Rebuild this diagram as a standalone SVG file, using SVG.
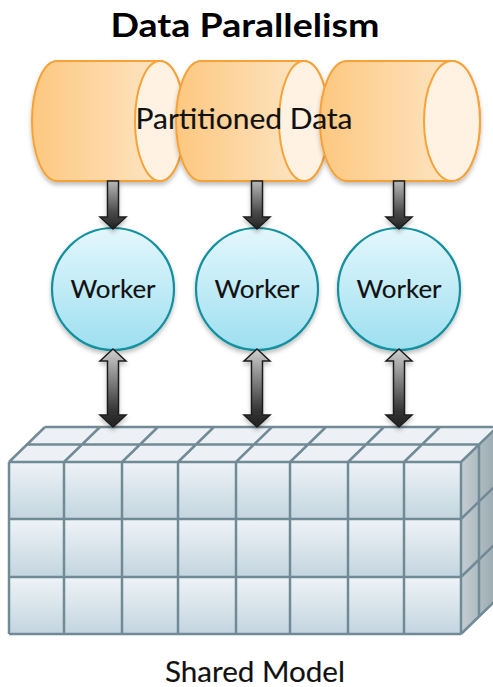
<svg xmlns="http://www.w3.org/2000/svg" width="493" height="687" viewBox="0 0 493 687">
<defs>
<linearGradient id="cylBody" x1="0" y1="0" x2="1" y2="0"><stop offset="0" stop-color="#fdc880"/><stop offset="1" stop-color="#feead0"/></linearGradient>
<linearGradient id="workerFill" x1="0" y1="0" x2="0" y2="1"><stop offset="0" stop-color="#e4f7fc"/><stop offset="1" stop-color="#9ddff0"/></linearGradient>
<linearGradient id="arrowDown" x1="0" y1="0" x2="0" y2="1"><stop offset="0" stop-color="#b8b8b8"/><stop offset="0.65" stop-color="#4a4a4a"/><stop offset="1" stop-color="#222"/></linearGradient>
<linearGradient id="arrowBoth" x1="0" y1="0" x2="0" y2="1"><stop offset="0" stop-color="#d0d0d0"/><stop offset="0.8" stop-color="#333"/><stop offset="1" stop-color="#222"/></linearGradient>
<linearGradient id="cell" x1="0" y1="0" x2="0" y2="1"><stop offset="0" stop-color="#eef3f7"/><stop offset="1" stop-color="#c3d5df"/></linearGradient>
<linearGradient id="side" x1="0" y1="0" x2="1" y2="0"><stop offset="0" stop-color="#c4cdd2"/><stop offset="1" stop-color="#9aa9b0"/></linearGradient>
<filter id="shadow" x="-20%" y="-20%" width="140%" height="150%"><feDropShadow dx="0" dy="3" stdDeviation="2" flood-color="#000" flood-opacity="0.25"/></filter>
</defs>
<style>
.title{font-family:Lato,"Open Sans","Liberation Sans",sans-serif;font-weight:bold;font-size:33px;fill:#000}
.lbl{font-family:Lato,"Open Sans","Liberation Sans",sans-serif;fill:#111;stroke:#111;stroke-width:0.15}
.cyl{fill:url(#cylBody);stroke:#f6a237;stroke-width:2}
.face{fill:#fff2e2;stroke:#f6a237;stroke-width:2}
.worker{fill:url(#workerFill);stroke:#12909e;stroke-width:2.2}
.cell{fill:url(#cell);stroke:none}
.grid{stroke:#718b96;stroke-width:2.5;fill:none}
.adown{fill:url(#arrowDown);stroke:#1e1e1e;stroke-width:1.5}
.aboth{fill:url(#arrowBoth);stroke:#1e1e1e;stroke-width:1.5}
</style>
<rect width="493" height="687" fill="#fff"/>
<g id="title"><text class="title" x="245" y="37" text-anchor="middle" textLength="269" lengthAdjust="spacingAndGlyphs">Data Parallelism</text></g>

<g id="data-1" filter="url(#shadow)">
<path class="cyl" d="M57,61 L160,61 A25,60 0 0 1 160,181 L57,181 A25,60 0 0 1 57,61 Z"/>
<ellipse class="face" cx="160" cy="121" rx="25" ry="60"/>
</g>
<g id="data-2" filter="url(#shadow)">
<path class="cyl" d="M201,61 L304,61 A25,60 0 0 1 304,181 L201,181 A25,60 0 0 1 201,61 Z"/>
<ellipse class="face" cx="304" cy="121" rx="25" ry="60"/>
</g>
<g id="data-3" filter="url(#shadow)">
<path class="cyl" d="M347,61 L452,61 A28,60 0 0 1 452,181 L347,181 A27,60 0 0 1 347,61 Z"/>
<ellipse class="face" cx="452" cy="121" rx="28" ry="60"/>
</g>
<g id="data-label"><text class="lbl" x="244" y="129" text-anchor="middle" font-size="29" textLength="217" lengthAdjust="spacingAndGlyphs">Partitioned Data</text></g>

<g id="model">
<polygon points="9,462 45,427 497,427 461,462" fill="#edf1f5"/>
<polygon points="461,462 497,427 497,599 461,634" fill="url(#side)"/>
<rect class="cell" x="9" y="462" width="452" height="57"/>
<rect class="cell" x="9" y="519" width="452" height="58"/>
<rect class="cell" x="9" y="577" width="452" height="57"/>
<path class="grid" d="M45,427 H497 M27,444.5 H479 M9,462 H461 M9,519 H461 M9,577 H461 M9,634 H461
M9,462 V634 M64,462 V634 M122,462 V634 M178,462 V634 M236,462 V634 M290,462 V634 M348,462 V634 M404,462 V634 M461,462 V634
M9,462 L45,427 M64,462 L100,427 M122,462 L158,427 M178,462 L214,427 M236,462 L272,427 M290,462 L326,427 M348,462 L384,427 M404,462 L440,427 M461,462 L497,427
M461,519 L497,484 M461,577 L497,542 M461,634 L497,599 M479,444.5 V616"/>
</g>

<g id="workers">
<g id="worker-1" filter="url(#shadow)"><circle class="worker" cx="113" cy="289" r="61"/></g>
<text class="lbl" x="113" y="298" text-anchor="middle" font-size="25" textLength="85" lengthAdjust="spacingAndGlyphs">Worker</text>
<g id="worker-2" filter="url(#shadow)"><circle class="worker" cx="257" cy="289" r="61"/></g>
<text class="lbl" x="257" y="298" text-anchor="middle" font-size="25" textLength="85" lengthAdjust="spacingAndGlyphs">Worker</text>
<g id="worker-3" filter="url(#shadow)"><circle class="worker" cx="399" cy="289" r="61"/></g>
<text class="lbl" x="399" y="298" text-anchor="middle" font-size="25" textLength="85" lengthAdjust="spacingAndGlyphs">Worker</text>
</g>

<g id="connectors" filter="url(#shadow)">
<path class="adown" d="M107.5,181 H118.5 V217 H126 L113,229 L100,217 H107.5 Z"/>
<path class="adown" d="M251.5,181 H262.5 V217 H270 L257,229 L244,217 H251.5 Z"/>
<path class="adown" d="M393.5,181 H404.5 V217 H412 L399,229 L386,217 H393.5 Z"/>
<path class="aboth" d="M113,349 L126,361 H118.5 V415 H126 L113,427 L100,415 H107.5 V361 H100 Z"/>
<path class="aboth" d="M257,349 L270,361 H262.5 V415 H270 L257,427 L244,415 H251.5 V361 H244 Z"/>
<path class="aboth" d="M399,349 L412,361 H404.5 V415 H412 L399,427 L386,415 H393.5 V361 H386 Z"/>
</g>

<g id="model-label"><text class="lbl" x="255" y="682" text-anchor="middle" font-size="28" textLength="180" lengthAdjust="spacingAndGlyphs">Shared Model</text></g>
</svg>
